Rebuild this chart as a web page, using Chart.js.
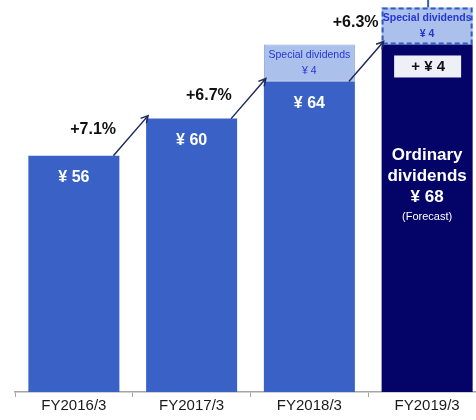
<!DOCTYPE html>
<html>
<head>
<meta charset="utf-8">
<script src="https://cdn.jsdelivr.net/npm/chart.js@4.4.1/dist/chart.umd.min.js"></script>
<style>
  html, body { margin: 0; padding: 0; background: #fff; overflow: hidden; }
  #wrap { width: 490px; height: 420px; }
</style>
</head>
<body>
<div id="wrap"><canvas id="dividendChart"></canvas></div>
<script>
// Dividend per share by fiscal year (yen)
const fiscalYears = ['FY2016/3', 'FY2017/3', 'FY2018/3', 'FY2019/3'];
const ordinaryDividends = [56, 60, 64, 68];
const specialDividends = [0, 0, 4, 4];
const growthRates = ['+7.1%', '+6.7%', '+6.3%'];
const forecastIndex = 3;

// value axis window - bars are cut off, not drawn from zero
const Y_MIN = 30.5;
const Y_MAX = 72.8;

const FONT = "'Liberation Sans', Arial, sans-serif";
const BLUE = '#3a62c6';
const NAVY = '#030368';
const SPECIAL_FILL = '#abc0eb';
const SPECIAL_TEXT = '#2636d4';
const ARROW = '#1f2b5c';

// growth label position, relative to the head of its arrow
const growthOffsets = [[-55, 14], [-57, 17], [-28, -19]];

function drawText(ctx, str, x, y, font, color) {
    ctx.font = font + ' ' + FONT;
    ctx.fillStyle = color;
    ctx.fillText(str, x, y);
}

function drawArrow(ctx, x1, y1, x2, y2) {
    const ang = Math.atan2(y2 - y1, x2 - x1);
    const head = 8;
    ctx.beginPath();
    ctx.moveTo(x1, y1);
    ctx.lineTo(x2, y2);
    ctx.moveTo(x2 - head * Math.cos(ang - 0.5), y2 - head * Math.sin(ang - 0.5));
    ctx.lineTo(x2, y2);
    ctx.lineTo(x2 - head * Math.cos(ang + 0.5), y2 - head * Math.sin(ang + 0.5));
    ctx.stroke();
}

// Labels, arrows and the dashed forecast box drawn on top of the bars
const annotations = {
    id: 'annotations',
    afterDatasetsDraw(chart) {
        const ctx = chart.ctx;
        const ordinary = chart.getDatasetMeta(0).data.map(b => b.getProps(['x', 'y', 'base', 'width'], true));
        const special = chart.getDatasetMeta(1).data.map(b => b.getProps(['x', 'y', 'base', 'width'], true));
        ctx.save();
        ctx.textAlign = 'center';
        ctx.textBaseline = 'middle';

        // yen amount inside each past bar
        ordinary.forEach((bar, i) => {
            if (i === forecastIndex) return;
            drawText(ctx, '¥ ' + ordinaryDividends[i], bar.x, bar.y + 22, 'bold 16px', '#fff');
        });

        // special dividend boxes
        special.forEach((bar, i) => {
            if (!specialDividends[i]) return;
            const forecast = i === forecastIndex;
            const left = bar.x - bar.width / 2;
            if (forecast) {
                ctx.strokeStyle = '#2f5cc4';
                ctx.lineWidth = 2;
                ctx.setLineDash([5, 3]);
                ctx.strokeRect(left + 1, bar.y + 1, bar.width - 2, bar.base - bar.y - 2);
                ctx.setLineDash([]);
                ctx.beginPath();
                ctx.moveTo(bar.x + 1, bar.y);
                ctx.lineTo(bar.x + 1, 0);
                ctx.stroke();
            }
            const cy = (bar.y + bar.base) / 2;
            drawText(ctx, 'Special dividends', bar.x, cy - 8, forecast ? 'bold 10.5px' : '10.5px', SPECIAL_TEXT);
            drawText(ctx, '¥ ' + specialDividends[i], bar.x, cy + 8, forecast ? 'bold 10.5px' : '10.5px', SPECIAL_TEXT);
        });

        // forecast bar contents
        const fc = ordinary[forecastIndex];
        const rise = ordinaryDividends[forecastIndex] - ordinaryDividends[forecastIndex - 1];
        ctx.fillStyle = '#eef0f7';
        ctx.fillRect(fc.x - 33, fc.y + 11, 67, 22);
        drawText(ctx, '+ ¥ ' + rise, fc.x + 1, fc.y + 22, 'bold 15px', '#111');
        drawText(ctx, 'Ordinary', fc.x, fc.y + 111, 'bold 17px', '#fff');
        drawText(ctx, 'dividends', fc.x, fc.y + 132, 'bold 17px', '#fff');
        drawText(ctx, '¥ ' + ordinaryDividends[forecastIndex], fc.x, fc.y + 153, 'bold 17px', '#fff');
        drawText(ctx, '(Forecast)', fc.x, fc.y + 172, '11px', '#fff');

        // growth arrows between consecutive ordinary dividends
        ctx.strokeStyle = ARROW;
        ctx.lineWidth = 1.5;
        growthRates.forEach((label, i) => {
            const a = ordinary[i];
            const b = ordinary[i + 1];
            const x2 = b.x - b.width / 2 + 2;
            const y2 = b.y - 3;
            drawArrow(ctx, a.x + a.width / 2 - 6, a.y, x2, y2);
            drawText(ctx, label, x2 + growthOffsets[i][0], y2 + growthOffsets[i][1], 'bold 16px', '#111');
        });
        ctx.restore();
    }
};

const ctx = document.getElementById('dividendChart').getContext('2d');
const dividendChart = new Chart(ctx, {
    type: 'bar',
    data: {
        labels: fiscalYears,
        datasets: [{
            label: 'Ordinary dividends',
            data: ordinaryDividends,
            base: Y_MIN,
            backgroundColor: ordinaryDividends.map((v, i) => i === forecastIndex ? NAVY : BLUE),
            borderWidth: 0
        }, {
            label: 'Special dividends',
            data: specialDividends.map(v => v || null),
            backgroundColor: SPECIAL_FILL,
            borderColor: specialDividends.map((v, i) => i === forecastIndex ? 'rgba(0,0,0,0)' : '#8aa3dc'),
            borderWidth: specialDividends.map((v, i) => i === forecastIndex ? 0 : 1),
            borderSkipped: false
        }]
    },
    options: {
        responsive: true,
        maintainAspectRatio: false,
        animation: false,
        categoryPercentage: 1,
        barPercentage: 0.773,
        layout: { padding: { left: 15, right: 4, top: 0, bottom: 0 } },
        plugins: {
            legend: { display: false },
            tooltip: { enabled: false }
        },
        scales: {
            x: {
                stacked: true,
                grid: {
                    offset: true,
                    drawOnChartArea: false,
                    drawTicks: true,
                    tickLength: 5,
                    color: '#a6a6a6'
                },
                border: { display: true, color: '#a6a6a6', width: 1.5 },
                ticks: {
                    padding: 0,
                    color: '#1a1a1a',
                    font: { family: FONT, size: 15 }
                },
                afterFit: scale => { scale.height = 28; }
            },
            y: {
                stacked: true,
                display: false,
                min: Y_MIN,
                max: Y_MAX
            }
        }
    },
    plugins: [annotations]
});
</script>
</body>
</html>
